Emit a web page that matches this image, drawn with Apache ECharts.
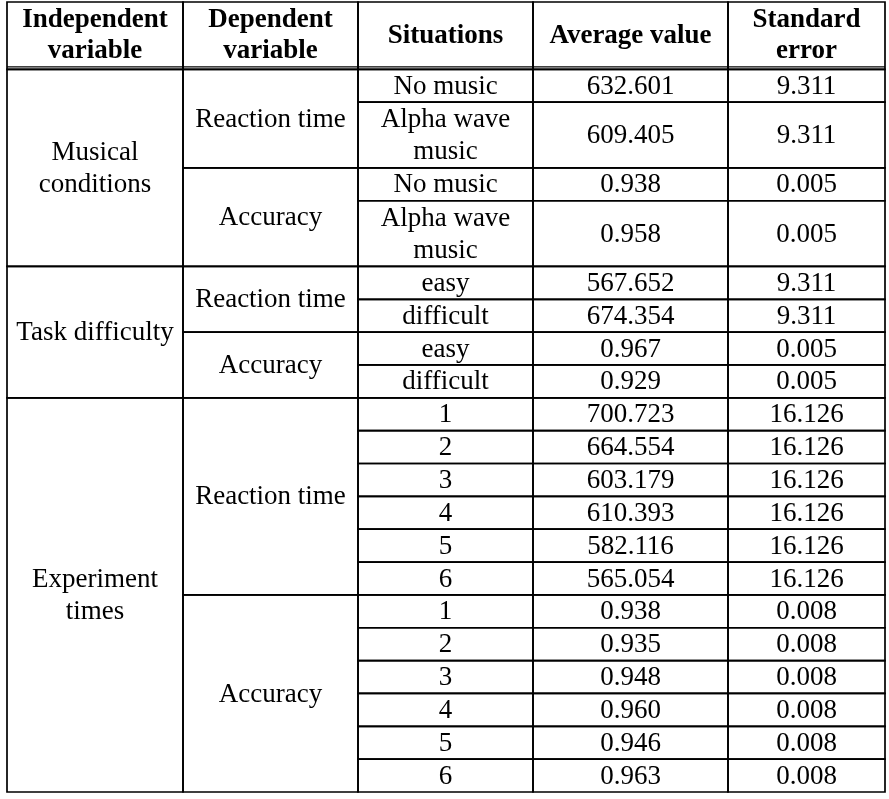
<!DOCTYPE html>
<html>
<head>
<meta charset="utf-8">
<script src="https://cdn.jsdelivr.net/npm/echarts@6/dist/echarts.min.js"></script>
<style>
html,body{margin:0;padding:0;background:#fff;}
#chart{width:889px;height:799px;}
</style>
</head>
<body>
<div id="chart"></div>
<script>
// ---- data ----
const headers = ['Independent\nvariable', 'Dependent\nvariable', 'Situations', 'Average value', 'Standard\nerror'];
const independentVars = ['Musical\nconditions', 'Task difficulty', 'Experiment\ntimes'];
const dependentVars = ['Reaction time', 'Accuracy'];
const situationsMusic = ['No music', 'Alpha wave\nmusic'];
const situationsTask = ['easy', 'difficult'];
const situationsTimes = ['1', '2', '3', '4', '5', '6'];
const musicRT = [632.601, 609.405];
const musicRTse = [9.311, 9.311];
const musicAcc = [0.938, 0.958];
const musicAccSe = [0.005, 0.005];
const taskRT = [567.652, 674.354];
const taskRTse = [9.311, 9.311];
const taskAcc = [0.967, 0.929];
const taskAccSe = [0.005, 0.005];
const timesRT = [700.723, 664.554, 603.179, 610.393, 582.116, 565.054];
const timesRTse = [16.126, 16.126, 16.126, 16.126, 16.126, 16.126];
const timesAcc = [0.938, 0.935, 0.948, 0.960, 0.946, 0.963];
const timesAccSe = [0.008, 0.008, 0.008, 0.008, 0.008, 0.008];

// ---- layout ----
const COL_EDGES = [7, 183, 358, 533, 728, 885];
const HEADER_UNITS = 2.05;

const groups = [
  { name: independentVars[0], sit: situationsMusic, blocks: [[musicRT, musicRTse], [musicAcc, musicAccSe]] },
  { name: independentVars[1], sit: situationsTask, blocks: [[taskRT, taskRTse], [taskAcc, taskAccSe]] },
  { name: independentVars[2], sit: situationsTimes, blocks: [[timesRT, timesRTse], [timesAcc, timesAccSe]] }
];

const cells = [];
function addCell(c0, c1, y0, y1, text, bold, header) {
  cells.push({ value: [COL_EDGES[c0], COL_EDGES[c1], y0, y1], text: text, bold: bold, header: header });
}
headers.forEach((h, i) => addCell(i, i + 1, -HEADER_UNITS, 0, h, true, true));

let y = 0;
groups.forEach(g => {
  const gStart = y;
  g.blocks.forEach((b, bi) => {
    const bStart = y;
    g.sit.forEach((s, si) => {
      const h = s.split('\n').length;
      addCell(2, 3, y, y + h, s, false, false);
      addCell(3, 4, y, y + h, b[0][si].toFixed(3), false, false);
      addCell(4, 5, y, y + h, b[1][si].toFixed(3), false, false);
      y += h;
    });
    addCell(1, 2, bStart, y, dependentVars[bi], false, false);
  });
  addCell(0, 1, gStart, y, g.name, false, false);
});
const totalRows = y;

const chart = echarts.init(document.getElementById('chart'), null, { renderer: 'canvas' });
chart.setOption({
  animation: false,
  backgroundColor: '#fff',
  grid: { left: 0, right: 0, top: 2, bottom: 7 },
  xAxis: { type: 'value', min: 0, max: 889, show: false },
  yAxis: { type: 'value', min: -HEADER_UNITS, max: totalRows, inverse: true, show: false },
  series: [{
    type: 'custom',
    coordinateSystem: 'cartesian2d',
    encode: { x: [0, 1], y: [2, 3] },
    data: cells.map(c => c.value),
    renderItem: function (params, api) {
      const c = cells[params.dataIndex];
      const p0 = api.coord([api.value(0), api.value(2)]);
      const p1 = api.coord([api.value(1), api.value(3)]);
      const children = [
        { type: 'rect', shape: { x: p0[0], y: p0[1], width: p1[0] - p0[0], height: p1[1] - p0[1] },
          style: { fill: 'none', stroke: '#000', lineWidth: 1.7 } },
        { type: 'text', style: {
            text: c.text, x: (p0[0] + p1[0]) / 2, y: (p0[1] + p1[1]) / 2 + (c.header ? 0 : 1),
            align: 'center', verticalAlign: 'middle',
            font: (c.bold ? 'bold 27px' : '27px') + ' "Liberation Serif", "Times New Roman", serif',
            lineHeight: c.header ? 31 : 32, fill: '#000' } }
      ];
      if (c.header) {
        children.push({ type: 'line', shape: { x1: p0[0], y1: p1[1] - 2.5, x2: p1[0], y2: p1[1] - 2.5 },
          style: { stroke: '#000', lineWidth: 1.4 } });
      }
      return { type: 'group', children: children };
    }
  }]
});
</script>
</body>
</html>
